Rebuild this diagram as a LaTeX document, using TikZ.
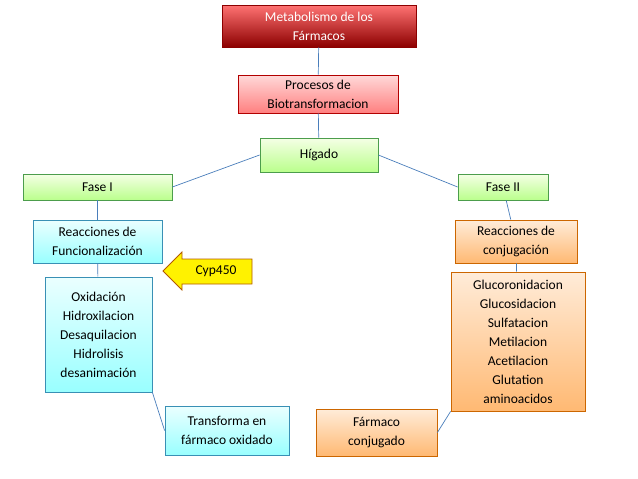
\documentclass[tikz,border=0pt]{standalone}
\usepackage{fontspec}
\setmainfont{Carlito}
\usetikzlibrary{shadings}
\definecolor{lnk}{HTML}{4A7EBB}
\begin{document}
\begin{tikzpicture}[x=1pt,y=-1pt,
  bx/.style={draw,line width=0.8pt,align=center,inner sep=0pt,font=\fontsize{13.5}{19}\selectfont},
  red1/.style={bx,draw=red!55!black,top color=red!55!white,bottom color=red!55!black,text=white},
  pink1/.style={bx,draw=red!70!black,top color=red!15!white,bottom color=red!50!white},
  grn/.style={bx,draw=green!45!black!70,top color=green!40!yellow!10!white,bottom color=green!60!yellow!45!white},
  blu/.style={bx,draw=cyan!70!black,top color=cyan!8!white,bottom color=cyan!40!white},
  org/.style={bx,draw=orange!80!black,top color=orange!15!white,bottom color=orange!55!white},
  cn/.style={draw=lnk,line width=0.7pt}]
\useasboundingbox (0,0) rectangle (638,479);
\node[red1,minimum width=194,minimum height=42] (m) at (319,26) {Metabolismo de los\\Fármacos};
\node[pink1,minimum width=160,minimum height=38] (p) at (318,94) {Procesos de\\Biotransformacion};
\node[grn,minimum width=118,minimum height=34] (h) at (319,155) {Hígado};
\node[grn,minimum width=149,minimum height=26] (f1) at (97.5,187) {Fase I};
\node[grn,minimum width=90,minimum height=26] (f2) at (503,187) {Fase II};
\node[blu,minimum width=129,minimum height=43] (r1) at (97.5,241.5) {Reacciones de\\Funcionalización};
\node[blu,minimum width=107,minimum height=115] (o) at (98.5,334.5) {Oxidación\\Hidroxilacion\\Desaquilacion\\Hidrolisis\\desanimación};
\node[blu,minimum width=124,minimum height=49] (t) at (227,430.5) {Transforma en\\fármaco oxidado};
\node[org,minimum width=122,minimum height=43] (r2) at (516,241.5) {Reacciones de\\conjugación};
\node[org,minimum width=134,minimum height=139] (g) at (518,341.5) {Glucoronidacion\\Glucosidacion\\Sulfatacion\\Metilacion\\Acetilacion\\Glutation\\aminoacidos};
\node[org,minimum width=121,minimum height=47] (fc) at (376.5,432.5) {Fármaco\\conjugado};
\draw[draw=orange!70!black,line width=0.8pt,fill=yellow] (163,271)--(182,252)--(182,259)--(252,259)--(252,284)--(182,284)--(182,290)--cycle;
\node[font=\fontsize{13.5}{15}\selectfont] (c) at (216,271.5) {Cyp450};
\draw[cn] (m)--(p);
\draw[cn] (p)--(h);
\draw[cn] (h.west)--(f1.east);
\draw[cn] (h.east)--(f2.west);
\draw[cn] (f1)--(r1);
\draw[cn] (r1)--(o);
\draw[cn] (o.south east)--(t.west);
\draw[cn] (f2)--(r2);
\draw[cn] (r2)--(g);
\draw[cn] (g.south west)--(fc.east);
\end{tikzpicture}
\end{document}
